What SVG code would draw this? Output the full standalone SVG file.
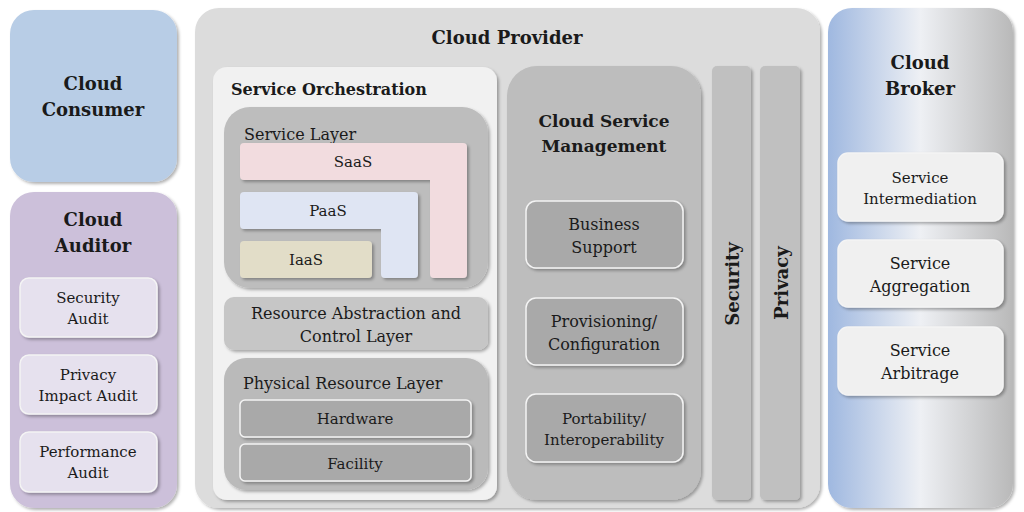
<svg xmlns="http://www.w3.org/2000/svg" width="1024" height="512" viewBox="0 0 1024 512">
<defs>
<linearGradient id="broker" x1="0" y1="0" x2="1" y2="0">
<stop offset="0" stop-color="#9fb8e0"/>
<stop offset="0.5" stop-color="#eef0f4"/>
<stop offset="1" stop-color="#b9b9b9"/>
</linearGradient>
<filter id="sh" x="-10%" y="-10%" width="125%" height="125%">
<feDropShadow dx="2" dy="2" stdDeviation="1.5" flood-color="#000" flood-opacity="0.3"/>
</filter>
</defs>
<style>
text{font-family:"DejaVu Serif","Liberation Serif",serif;fill:#1a1a1a;text-anchor:middle}
.t{font-weight:bold;font-size:18px}
.s{font-size:15px}
.h{font-weight:bold;font-size:16px}
.m{font-weight:bold;font-size:17px}
.l{font-size:16px}
.box{filter:url(#sh)}
.sub{stroke:#f4f4f4;stroke-width:1.5;filter:url(#sh)}
</style>
<rect width="1024" height="512" fill="#ffffff"/>

<g id="cloud-consumer">
<rect class="box" x="10" y="10" width="167" height="172" rx="24" fill="#b8cde6"/>
<text class="t" x="93" y="90">Cloud</text>
<text class="t" x="93" y="116">Consumer</text>
</g>

<g id="cloud-auditor">
<rect class="box" x="10" y="192" width="167" height="316" rx="24" fill="#ccc0da"/>
<text class="t" x="93" y="226">Cloud</text>
<text class="t" x="93" y="252">Auditor</text>
<g id="security-audit"><rect class="sub" x="20" y="278" width="137" height="59" rx="9" fill="#e6e1ee"/>
<text class="s" x="88" y="303">Security</text><text class="s" x="88" y="324">Audit</text></g>
<g id="privacy-impact-audit"><rect class="sub" x="20" y="355" width="137" height="59" rx="9" fill="#e6e1ee"/>
<text class="s" x="88" y="380">Privacy</text><text class="s" x="88" y="401">Impact Audit</text></g>
<g id="performance-audit"><rect class="sub" x="20" y="432" width="137" height="60" rx="9" fill="#e6e1ee"/>
<text class="s" x="88" y="457">Performance</text><text class="s" x="88" y="478">Audit</text></g>
</g>

<g id="cloud-provider">
<rect class="box" x="195" y="8" width="625" height="500" rx="24" fill="#dcdcdc"/>
<text class="t" x="507" y="44">Cloud Provider</text>
</g>

<g id="service-orchestration">
<rect class="box" x="213" y="67" width="284" height="433" rx="14" fill="#f1f1f1"/>
<text class="h" x="231" y="95" style="text-anchor:start">Service Orchestration</text>
</g>

<g id="service-layer">
<rect class="box" x="224" y="107" width="264" height="181" rx="26" fill="#bdbdbd"/>
<text class="l" x="244" y="140" style="text-anchor:start">Service Layer</text>
<g id="saas"><path class="box" d="M244 143 H463 Q467 143 467 147 V274 Q467 278 463 278 H434 Q430 278 430 274 V180 H244 Q240 180 240 176 V147 Q240 143 244 143 Z" fill="#f2dcdf"/>
<text class="s" x="353" y="167">SaaS</text></g>
<g id="paas"><path class="box" d="M244 192 H414 Q418 192 418 196 V274 Q418 278 414 278 H385 Q381 278 381 274 V229 H244 Q240 229 240 225 V196 Q240 192 244 192 Z" fill="#dfe5f3"/>
<text class="s" x="328" y="216">PaaS</text></g>
<g id="iaas"><rect class="box" x="240" y="241" width="132" height="37" rx="4" fill="#e2ddc8"/>
<text class="s" x="306" y="265">IaaS</text></g>
</g>

<g id="resource-abstraction">
<rect class="box" x="224" y="297" width="264" height="53" rx="10" fill="#c6c6c6"/>
<text class="l" x="356" y="319">Resource Abstraction and</text>
<text class="l" x="356" y="342">Control Layer</text>
</g>

<g id="physical-resource-layer">
<rect class="box" x="224" y="358" width="264" height="132" rx="22" fill="#bababa"/>
<text class="l" x="243" y="389" style="text-anchor:start">Physical Resource Layer</text>
<g id="hardware"><rect class="sub" x="240" y="400" width="231" height="37" rx="5" fill="#a9a9a9"/>
<text class="s" x="355" y="424">Hardware</text></g>
<g id="facility"><rect class="sub" x="240" y="444" width="231" height="37" rx="5" fill="#a9a9a9"/>
<text class="s" x="355" y="469">Facility</text></g>
</g>

<g id="cloud-service-management">
<rect class="box" x="507" y="66" width="194" height="434" rx="30" fill="#bdbdbd"/>
<text class="m" x="604" y="127">Cloud Service</text>
<text class="m" x="604" y="152">Management</text>
<g id="business-support"><rect class="sub" x="526" y="201" width="157" height="67" rx="10" fill="#a9a9a9"/>
<text class="l" x="604" y="230">Business</text><text class="l" x="604" y="253">Support</text></g>
<g id="provisioning"><rect class="sub" x="526" y="298" width="157" height="67" rx="10" fill="#a9a9a9"/>
<text class="l" x="604" y="327">Provisioning/</text><text class="l" x="604" y="350">Configuration</text></g>
<g id="portability"><rect class="sub" x="526" y="394" width="157" height="68" rx="10" fill="#a9a9a9"/>
<text class="s" x="604" y="424">Portability/</text><text class="s" x="604" y="445">Interoperability</text></g>
</g>

<g id="security">
<rect class="box" x="712" y="66" width="39" height="434" rx="5" fill="#c0c0c0"/>
<text class="t" transform="translate(739 284) rotate(-90)">Security</text>
</g>

<g id="privacy">
<rect class="box" x="760" y="66" width="40" height="434" rx="5" fill="#c0c0c0"/>
<text class="t" transform="translate(788 283) rotate(-90)">Privacy</text>
</g>

<g id="cloud-broker">
<rect class="box" x="828" y="8" width="185" height="500" rx="24" fill="url(#broker)"/>
<text class="t" x="920" y="69">Cloud</text>
<text class="t" x="920" y="95">Broker</text>
<g id="service-intermediation"><rect class="sub" x="838" y="153" width="165" height="68" rx="10" fill="#f0f0f0"/>
<text class="s" x="920" y="183">Service</text><text class="s" x="920" y="204">Intermediation</text></g>
<g id="service-aggregation"><rect class="sub" x="838" y="240" width="165" height="67" rx="10" fill="#f0f0f0"/>
<text class="l" x="920" y="269">Service</text><text class="l" x="920" y="292">Aggregation</text></g>
<g id="service-arbitrage"><rect class="sub" x="838" y="327" width="165" height="68" rx="10" fill="#f0f0f0"/>
<text class="l" x="920" y="356">Service</text><text class="l" x="920" y="379">Arbitrage</text></g>
</g>

<g id="connectors"></g>
</svg>
